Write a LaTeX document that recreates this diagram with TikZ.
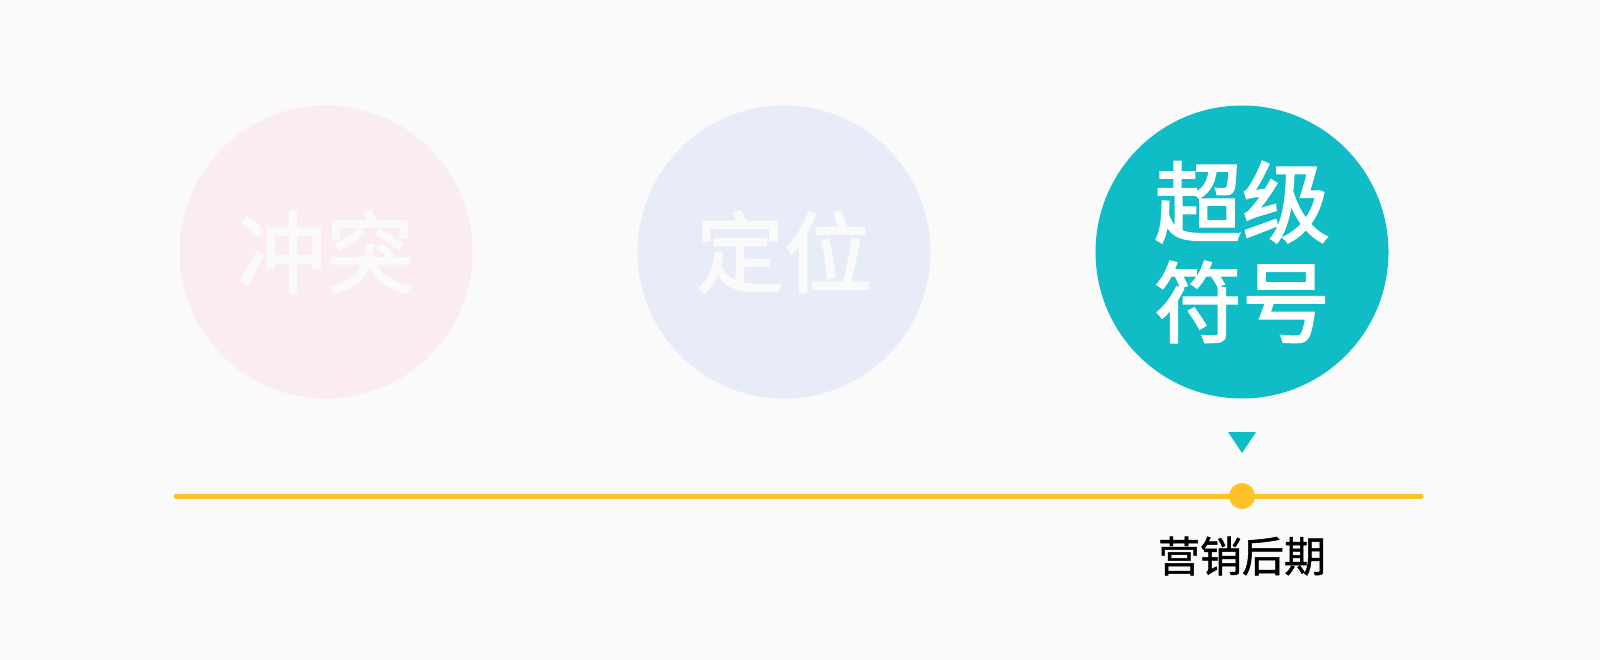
\documentclass[tikz,border=0pt]{standalone}
\usepackage{fontspec}
\newfontfamily\cjk{Noto Sans CJK SC}
\newfontfamily\cjkheavy{Noto Sans CJK SC}[FakeBold=2.2]
\newfontfamily\cjkmid{Noto Sans CJK SC}[FakeBold=1.2]
\usetikzlibrary{positioning,shapes.geometric}
\definecolor{paper}{HTML}{FAFAFA}
\definecolor{blush}{HTML}{FBECF0}
\definecolor{haze}{HTML}{E8ECF8}
\definecolor{teal}{HTML}{10BCC6}
\definecolor{amber}{HTML}{FFC125}
\tikzset{>=stealth,
  bubble/.style={circle,minimum size=293pt,inner sep=0pt,align=center,
    font=\cjkheavy\fontsize{88}{100}\selectfont,text=paper},
  timeline/.style={draw=amber,line width=5pt,line cap=round}}

\begin{document}
\begin{tikzpicture}[x=1pt,y=-1pt]
\fill[paper] (0,0) rectangle (1600,660);
\node[bubble,fill=blush] (conflict) at (326,252) {冲突};
\node[bubble,fill=haze] (position) at (784,252) {定位};
\node[bubble,fill=teal,text=white] (symbol) at (1242,252) {超级\\符号};
\coordinate (start) at (176,496);
\coordinate (end) at (1421,496);
\draw[timeline] (start) -- (end);
\node[circle,fill=amber,minimum size=26pt,inner sep=0pt] (stage) at (1242,496) {};
\fill[teal] (1228,432) coordinate (tl) -- (1256,432) -- (1242,453) coordinate (tip) -- cycle;
\node[font=\cjkmid\fontsize{42}{48}\selectfont] (late) at (1242,556) {营销后期};
\end{tikzpicture}
\end{document}
